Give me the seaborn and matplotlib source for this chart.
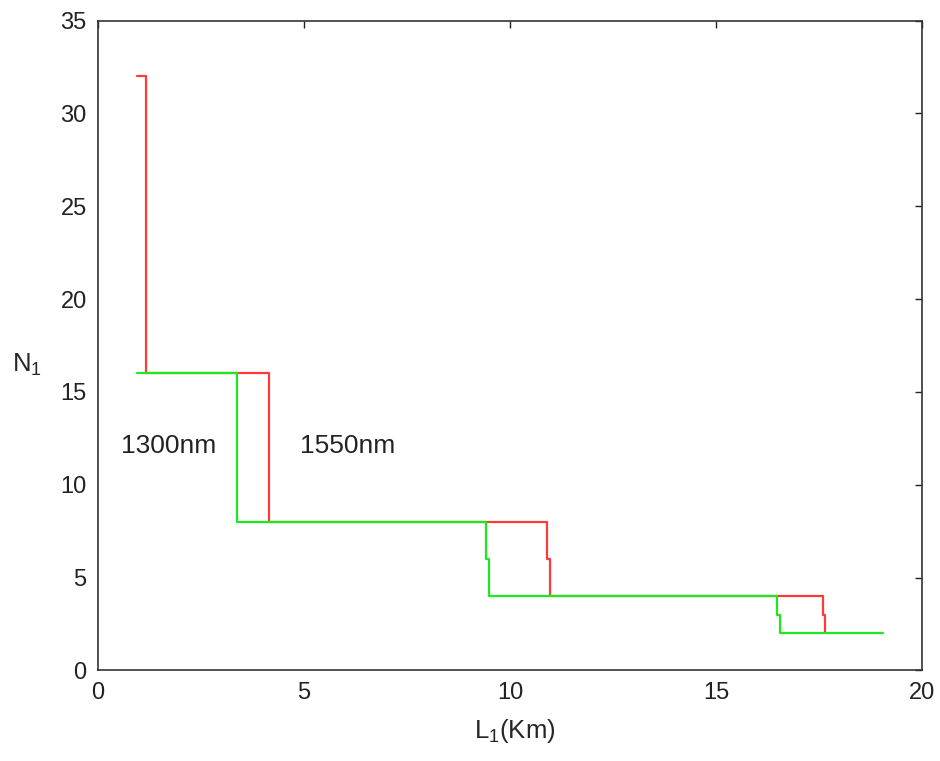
import matplotlib
matplotlib.use("Agg")
import matplotlib.pyplot as plt
import seaborn as sns
import pandas as pd

# 1550nm step curve (red)
red_x = [0.95, 1.16, 1.16, 4.16, 4.16, 10.90, 10.90, 10.96, 10.96, 17.60, 17.60, 17.65, 17.65]
red_y = [32, 32, 16, 16, 8, 8, 6, 6, 4, 4, 3, 3, 2]
# 1300nm step curve (green)
green_x = [0.96, 3.37, 3.37, 9.43, 9.43, 9.49, 9.49, 16.49, 16.49, 16.55, 16.55, 19.06]
green_y = [16, 16, 8, 8, 6, 6, 4, 4, 3, 3, 2, 2]

x_ticks = [0, 5, 10, 15, 20]
y_ticks = [0, 5, 10, 15, 20, 25, 30, 35]

sns.set_style("white")
plt.rcParams['font.family'] = ['Liberation Sans', 'DejaVu Sans']
plt.rcParams['mathtext.default'] = 'regular'

fig = plt.figure(figsize=(9.4, 7.61), dpi=100)
ax = fig.add_axes([0.104, 0.119, 0.877, 0.854])

red_df = pd.DataFrame({"L": red_x, "N": red_y})
green_df = pd.DataFrame({"L": green_x, "N": green_y})
sns.lineplot(data=red_df, x="L", y="N", sort=False, estimator=None, color="#ff3a3a", lw=1.6, ax=ax)
sns.lineplot(data=green_df, x="L", y="N", sort=False, estimator=None, color="#1ee81e", lw=1.6, ax=ax)

ax.set_xlim(0, 20)
ax.set_ylim(0, 35)
ax.set_xticks(x_ticks)
ax.set_yticks(y_ticks)
ax.tick_params(direction='in', length=5, width=1.0, top=True, right=True,
               labelsize=17, colors='#222222', pad=8)
for s in ax.spines.values():
    s.set_visible(True)
    s.set_color('#333333')
    s.set_linewidth(1.2)

ax.set_xlabel("L$_1$(Km)", fontsize=18.5)
ax.xaxis.set_label_coords(0.506, -0.072)
ax.set_ylabel("N$_1$", fontsize=18.5, rotation=0, ha='center', va='center')
ax.yaxis.set_label_coords(-0.086, 0.47)

ax.text(0.575, 12.1, "1300nm", fontsize=19, va='center', ha='left', color='#222222')
ax.text(4.9, 12.1, "1550nm", fontsize=19, va='center', ha='left', color='#222222')

fig.savefig("out.png", dpi=100)
